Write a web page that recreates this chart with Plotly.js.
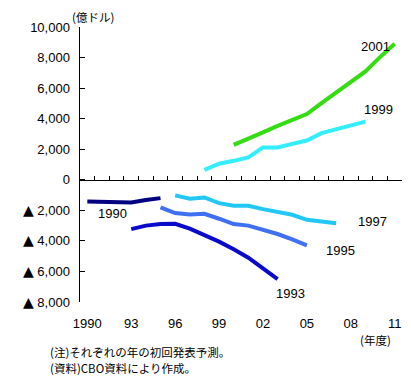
<!DOCTYPE html>
<html>
<head>
<meta charset="utf-8">
<script src="https://cdn.plot.ly/plotly-3.0.1.min.js"></script>
<style>html,body{margin:0;padding:0;background:#fff;}#chart{width:411px;height:377px;}</style>
</head>
<body>
<div id="chart"></div>
<script>
// Data (億ドル, fiscal years)
const years1990 = [1990, 1991, 1992, 1993, 1994, 1995];
const vals1990  = [-1420, -1420, -1420, -1480, -1330, -1200];

const years1993 = [1993, 1994, 1995, 1996, 1997, 1998, 1999, 2000, 2001, 2002, 2003];
const vals1993  = [-3230, -3000, -2900, -2880, -3200, -3600, -4050, -4550, -5100, -5800, -6500];

const years1995 = [1995, 1996, 1997, 1998, 1999, 2000, 2001, 2002, 2003, 2004, 2005];
const vals1995  = [-1810, -2180, -2270, -2230, -2550, -2900, -3000, -3250, -3550, -3900, -4300];

const years1997 = [1996, 1997, 1998, 1999, 2000, 2001, 2002, 2003, 2004, 2005, 2006, 2007];
const vals1997  = [-1020, -1240, -1160, -1530, -1700, -1700, -1920, -2120, -2290, -2620, -2750, -2840];

const years1999 = [1998, 1999, 2000, 2001, 2002, 2003, 2004, 2005, 2006, 2007, 2008, 2009];
const vals1999  = [650, 1050, 1240, 1460, 2120, 2120, 2350, 2570, 3050, 3310, 3570, 3810];

const years2001 = [2000, 2001, 2002, 2003, 2004, 2005, 2006, 2007, 2008, 2009, 2010, 2011];
const vals2001  = [2290, 2730, 3100, 3530, 3930, 4300, 5020, 5720, 6400, 7090, 8030, 8900];

const xTickVals = [1990, 1993, 1996, 1999, 2002, 2005, 2008, 2011];
const xTickText = ['1990', '93', '96', '99', '02', '05', '08', '11'];
const yTickVals = [-8000, -6000, -4000, -2000, 0, 2000, 4000, 6000, 8000, 10000];
const TRI = '<span style="font-family:DejaVu Sans;font-size:14px">▲</span> ';
const yTickText = [TRI + '8,000', TRI + '6,000', TRI + '4,000', TRI + '2,000', '0', '2,000', '4,000', '6,000', '8,000', '10,000'];
const yearBoundaries = [];
for (let y = 1989.5; y <= 2011.6; y += 1) yearBoundaries.push(y);

const seriesNames = ['1990', '1993', '1995', '1997', '1999', '2001'];
const seriesX = [years1990, years1993, years1995, years1997, years1999, years2001];
const seriesY = [vals1990, vals1993, vals1995, vals1997, vals1999, vals2001];
const colors = ['#000080', '#0A0ACC', '#3F6FF2', '#22C8F5', '#33EEFF', '#33DD11'];

const FONT = '"Liberation Sans", "Noto Sans CJK JP", sans-serif';
const JFONT = '"Noto Sans CJK JP", sans-serif';

const traces = seriesNames.map((n, i) => ({
  type: 'scatter', mode: 'lines', name: n,
  x: seriesX[i], y: seriesY[i],
  line: {color: colors[i], width: 4},
  hoverinfo: 'skip', showlegend: false
}));
// invisible helper trace to carry the label axis
traces.push({type: 'scatter', mode: 'markers', x: [2000], y: [0], xaxis: 'x2',
  marker: {opacity: 0}, hoverinfo: 'skip', showlegend: false});

const yDomainZero = 8000 / 18000;

const layout = {
  width: 411, height: 377,
  margin: {l: 80, r: 9, t: 27, b: 75},
  paper_bgcolor: '#fff', plot_bgcolor: '#fff',
  font: {family: FONT, size: 13, color: '#000'},
  showlegend: false,
  xaxis: {
    range: [1989.5, 2011.5],
    anchor: 'free', position: yDomainZero,
    showline: true, linecolor: '#000', linewidth: 1.5,
    tickmode: 'array', tickvals: yearBoundaries,
    ticks: 'inside', ticklen: 4, tickwidth: 1, tickcolor: '#000',
    showticklabels: false, showgrid: false, zeroline: false
  },
  xaxis2: {
    overlaying: 'x', matches: 'x', anchor: 'y', side: 'bottom',
    range: [1989.5, 2011.5],
    showline: false, showgrid: false, zeroline: false,
    tickmode: 'array', tickvals: xTickVals, ticktext: xTickText,
    ticks: 'outside', ticklen: 9, tickcolor: 'rgba(0,0,0,0)',
    tickfont: {family: FONT, size: 13, color: '#000'}
  },
  yaxis: {
    range: [-8000, 10000],
    showline: true, linecolor: '#000', linewidth: 1.5,
    tickmode: 'array', tickvals: yTickVals, ticktext: yTickText,
    ticks: 'inside', ticklen: 5, tickwidth: 1, tickcolor: '#000',
    ticklabelstandoff: 6,
    showgrid: false, zeroline: false,
    tickfont: {family: FONT, size: 13, color: '#000'}
  },
  annotations: [
    {text: '2001', x: 2009.7, y: 8700, xref: 'x', yref: 'y', showarrow: false, xanchor: 'center', yanchor: 'middle', font: {size: 13}},
    {text: '1999', x: 2009.9, y: 4600, xref: 'x', yref: 'y', showarrow: false, xanchor: 'center', yanchor: 'middle', font: {size: 13}},
    {text: '1997', x: 2009.5, y: -2740, xref: 'x', yref: 'y', showarrow: false, xanchor: 'center', yanchor: 'middle', font: {size: 13}},
    {text: '1995', x: 2007.3, y: -4650, xref: 'x', yref: 'y', showarrow: false, xanchor: 'center', yanchor: 'middle', font: {size: 13}},
    {text: '1993', x: 2003.9, y: -7420, xref: 'x', yref: 'y', showarrow: false, xanchor: 'center', yanchor: 'middle', font: {size: 13}},
    {text: '1990', x: 1991.7, y: -2180, xref: 'x', yref: 'y', showarrow: false, xanchor: 'center', yanchor: 'middle', font: {size: 13}},
    {text: '(億ドル)', x: 70, y: 17, xref: 'paper', yref: 'paper', showarrow: false, xanchor: 'left', yanchor: 'middle', font: {family: JFONT, size: 11.5}},
    {text: '(年度)', x: 358, y: 340, xref: 'paper', yref: 'paper', showarrow: false, xanchor: 'left', yanchor: 'middle', font: {family: JFONT, size: 11.5}},
    {text: '(注)それぞれの年の初回発表予測。', x: 48, y: 351.5, xref: 'paper', yref: 'paper', showarrow: false, xanchor: 'left', yanchor: 'middle', font: {family: JFONT, size: 11.5}},
    {text: '(資料)CBO資料により作成。', x: 48, y: 367.5, xref: 'paper', yref: 'paper', showarrow: false, xanchor: 'left', yanchor: 'middle', font: {family: JFONT, size: 11.5}}
  ]
};

// convert pixel-based paper annotations to paper fractions
const plotW = 411 - 80 - 9, plotH = 377 - 27 - 75;
layout.annotations.forEach(a => {
  if (a.xref === 'paper') {
    a.x = (a.x - 80) / plotW;
    a.y = (377 - 75 - a.y) / plotH;
  }
});

Plotly.newPlot('chart', traces, layout, {staticPlot: true, displayModeBar: false});
</script>
</body>
</html>
